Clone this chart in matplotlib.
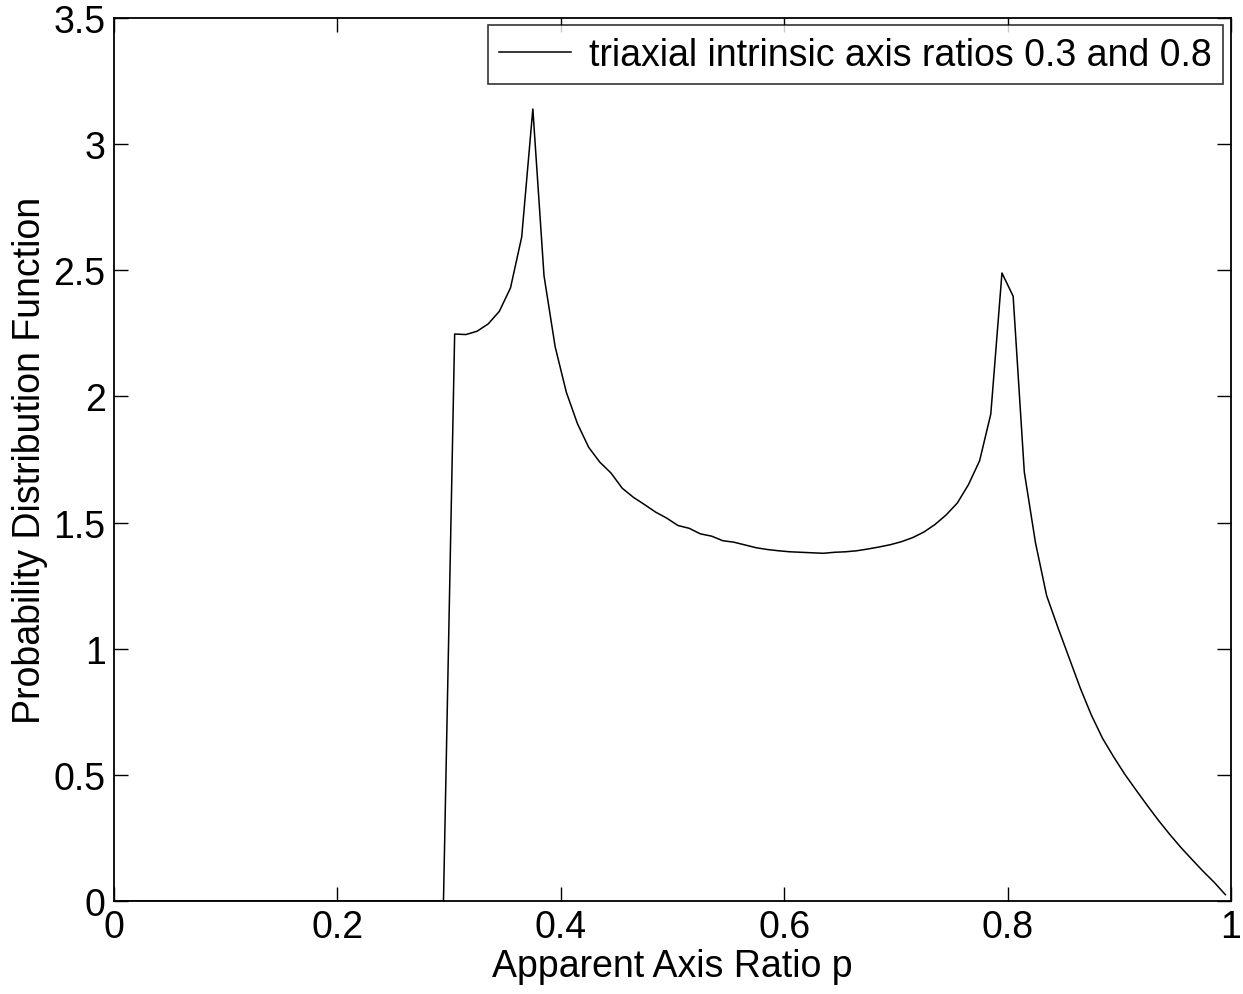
import numpy as np
import matplotlib
matplotlib.use("Agg")
import matplotlib.pyplot as plt

plt.rcParams['font.family'] = ['Liberation Sans', 'DejaVu Sans']

# Apparent axis ratio samples (bin centres)
p = np.round(np.arange(0.005, 1.0, 0.01), 3)

pdf_nonzero = [
    2.247, 2.245, 2.258, 2.287, 2.337, 2.430, 2.631, 3.139, 2.478, 2.196,   # 0.305-0.395
    2.016, 1.891, 1.798, 1.739, 1.696, 1.636, 1.600, 1.571, 1.541, 1.517,   # 0.405-0.495
    1.488, 1.477, 1.455, 1.446, 1.428, 1.422, 1.411, 1.400, 1.393, 1.388,   # 0.505-0.595
    1.384, 1.382, 1.380, 1.378, 1.382, 1.384, 1.388, 1.395, 1.403, 1.412,   # 0.605-0.695
    1.424, 1.440, 1.462, 1.492, 1.530, 1.577, 1.650, 1.745, 1.930, 2.489,   # 0.705-0.795
    2.397, 1.700, 1.420, 1.210, 1.085, 0.965, 0.845, 0.737, 0.645, 0.571,   # 0.805-0.895
    0.502, 0.440, 0.379, 0.320, 0.265, 0.213, 0.165, 0.118, 0.074, 0.025,   # 0.905-0.995
]
pdf = [0.0] * 30 + pdf_nonzero   # zero for p < 0.3

legend_label = 'triaxial intrinsic axis ratios 0.3 and 0.8'
xticks = [0, 0.2, 0.4, 0.6, 0.8, 1]
xticklabels = ['0', '0.2', '0.4', '0.6', '0.8', '1']
yticks = [0, 0.5, 1, 1.5, 2, 2.5, 3, 3.5]
yticklabels = ['0', '0.5', '1', '1.5', '2', '2.5', '3', '3.5']

fs = 27

fig = plt.figure(figsize=(12.43, 9.95), dpi=100)
ax = fig.add_axes([0.0917, 0.0935, 0.9903 - 0.0917, 0.981 - 0.0935])
ax.plot(p, pdf, color='black', lw=1.1, label=legend_label)

ax.set_xlim(0, 1)
ax.set_ylim(0, 3.5)
ax.set_xticks(xticks)
ax.set_xticklabels(xticklabels)
ax.set_yticks(yticks)
ax.set_yticklabels(yticklabels)
ax.tick_params(direction='in', length=10, width=1.0, top=True, right=True,
               labelsize=fs, pad=6)
for s in ax.spines.values():
    s.set_linewidth(1.3)

ax.set_xlabel('Apparent Axis Ratio p', fontsize=fs, labelpad=2)
ax.set_ylabel('Probability Distribution Function', fontsize=fs, labelpad=4)

leg = ax.legend(loc='upper right', fontsize=fs, frameon=True, fancybox=False,
                edgecolor='black', handlelength=1.9, borderaxespad=0.2,
                borderpad=0.3, handletextpad=0.5)
leg.get_frame().set_linewidth(1.2)

fig.savefig('out.png', dpi=100)
